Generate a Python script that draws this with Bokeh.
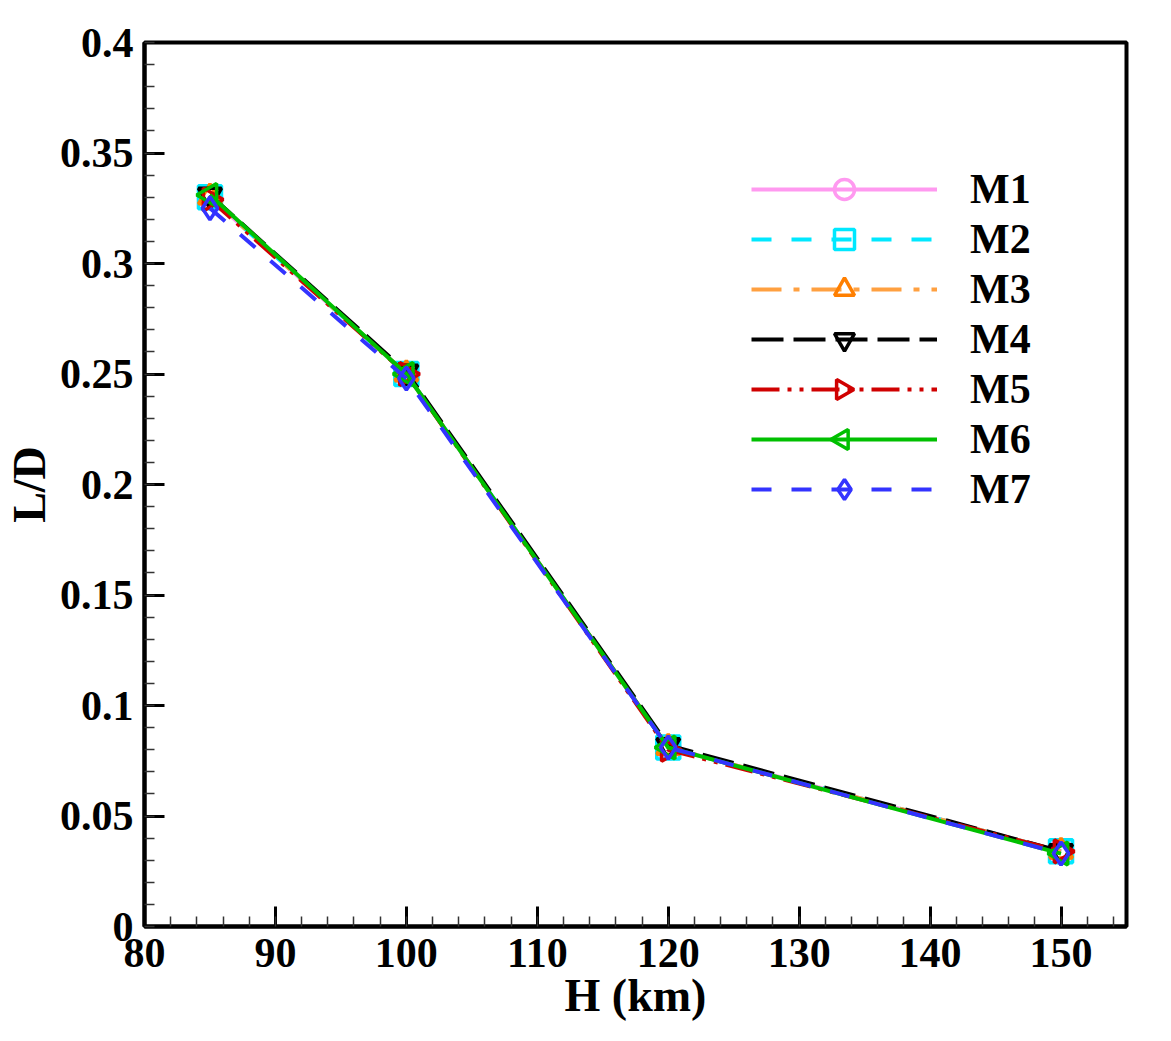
from bokeh.plotting import figure
from bokeh.embed import file_html
from bokeh.resources import INLINE
from bokeh.models import (Range1d, SingleIntervalTicker, CustomJSTickFormatter,
                          Legend, LegendItem)

H = [85, 100, 120, 150]
series_names = ["M1", "M2", "M3", "M4", "M5", "M6", "M7"]
M1 = [0.330, 0.250, 0.081, 0.034]
M2 = [0.330, 0.250, 0.081, 0.034]
M3 = [0.330, 0.250, 0.081, 0.034]
M4 = [0.331, 0.251, 0.082, 0.034]
M5 = [0.329, 0.250, 0.080, 0.034]
M6 = [0.331, 0.250, 0.081, 0.033]
M7 = [0.325, 0.248, 0.081, 0.033]
values = [M1, M2, M3, M4, M5, M6, M7]

line_colors = ["#ff99f0", "#00e8ff", "#ffa040", "#000000", "#d00000", "#00c000", "#3333ff"]
marker_colors = ["#ff99f0", "#00e8ff", "#ff7f00", "#000000", "#d00000", "#00c000", "#3333ff"]
dashes = ["solid", "20 20", "30 12 6 12", "32 10", "28 8 4 8 4 8", "solid", "20 20"]
markers = ["circle", "square", "triangle", "inverted_triangle", "triangle", "triangle", "diamond"]
angles = [0, 0, 0, 0, -1.5708, 1.5708, 0]

FONT = "Liberation Serif"

# layout constants (pixels)
W, HT = 1160, 1035
BL, BT = 141, 42
FW, FH = 985, 884
LEG_X, LEG_Y = 607, 412
GLYPH_W, ROW_H = 186, 50

p = figure(width=W, height=HT, output_backend="svg", toolbar_location=None,
           x_range=Range1d(80, 155), y_range=Range1d(0, 0.4),
           min_border_left=BL, min_border_top=BT,
           min_border_right=W - BL - FW, min_border_bottom=HT - BT - FH)
p.extra_x_ranges = {"px": Range1d(0, FW)}
p.extra_y_ranges = {"py": Range1d(0, FH)}
p.background_fill_color = "white"
p.border_fill_color = "white"
p.xgrid.visible = False
p.ygrid.visible = False
p.outline_line_color = "black"
p.outline_line_width = 4

items = []
n = len(series_names)
for i, name in enumerate(series_names):
    r1 = p.line(H, values[i], line_color=line_colors[i], line_width=4, line_dash=dashes[i])
    r2 = p.scatter(H, values[i], marker=markers[i], size=23, angle=angles[i],
                   line_color=marker_colors[i], line_width=3.5, fill_color=None)
    if angles[i] == 0:
        items.append(LegendItem(label=name, renderers=[r1, r2]))
    else:
        items.append(LegendItem(label=name, renderers=[r1]))
        # legend does not rotate markers, so draw the rotated legend marker in screen space
        cx = LEG_X + GLYPH_W / 2
        cy = LEG_Y + n * ROW_H - ROW_H / 2 - ROW_H * i
        p.scatter([cx], [cy], marker=markers[i], size=20, angle=angles[i],
                  line_color=marker_colors[i], line_width=3.5, fill_color=None,
                  x_range_name="px", y_range_name="py")

p.xaxis.ticker = SingleIntervalTicker(interval=10, num_minor_ticks=5)
p.yaxis.ticker = SingleIntervalTicker(interval=0.05, num_minor_ticks=5)
p.yaxis.formatter = CustomJSTickFormatter(
    code="return tick.toFixed(2).replace(/0+$/,'').replace(/\\.$/,'');")
p.xaxis.formatter = CustomJSTickFormatter(code="return tick > 151 ? '' : tick.toFixed(0);")

for ax in (p.xaxis[0], p.yaxis[0]):
    ax.axis_line_width = 4
    ax.axis_line_color = "black"
    ax.major_tick_in = 20
    ax.major_tick_out = 0
    ax.minor_tick_in = 10
    ax.minor_tick_out = 0
    ax.major_tick_line_width = 3
    ax.minor_tick_line_width = 1.5
    ax.major_tick_line_color = "black"
    ax.minor_tick_line_color = "#333333"
    ax.major_label_text_font = FONT
    ax.major_label_text_font_style = "bold"
    ax.major_label_text_font_size = "42px"
    ax.major_label_text_color = "black"
    ax.axis_label_text_font = FONT
    ax.axis_label_text_font_style = "bold"
    ax.axis_label_text_font_size = "46px"
    ax.axis_label_text_color = "black"

p.xaxis.axis_label = "H (km)"
p.yaxis.axis_label = "L/D"
p.xaxis.major_label_standoff = 12
p.xaxis.axis_label_standoff = 0
p.yaxis.major_label_standoff = 11
p.yaxis.axis_label_standoff = 2

legend = Legend(items=items, location=(LEG_X, LEG_Y))
legend.border_line_color = None
legend.background_fill_alpha = 0
legend.padding = 0
legend.margin = 0
legend.spacing = 0
legend.glyph_width = GLYPH_W
legend.glyph_height = ROW_H
legend.label_height = ROW_H
legend.label_standoff = 33
legend.label_text_font = FONT
legend.label_text_font_style = "bold"
legend.label_text_font_size = "42px"
legend.label_text_color = "black"
p.add_layout(legend, "center")

open("out.html", "w").write(file_html(p, INLINE))
